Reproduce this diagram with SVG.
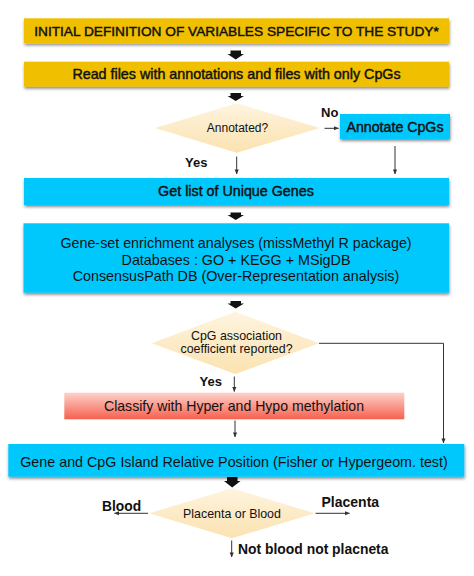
<svg xmlns="http://www.w3.org/2000/svg" width="474" height="576" viewBox="0 0 474 576">
<defs>
<style>
text{font-family:"Liberation Sans",Arial,sans-serif;fill:#111;text-anchor:middle}
.b{font-weight:bold}
.m{stroke:#111;stroke-width:0.45}
.yel{fill:#f0bf00;filter:url(#sh)}
.cyan{fill:#00c8fd;filter:url(#sh)}
.dia{fill:url(#dg)}
.ln{fill:none;stroke:#333;stroke-width:1;marker-end:url(#ah)}
.blk{fill:#111}
.lbl{text-anchor:start}
</style>
<filter id="sh" x="-5%" y="-20%" width="110%" height="150%">
<feDropShadow dx="0.5" dy="2" stdDeviation="1.4" flood-color="#000" flood-opacity="0.45"/>
</filter>
<linearGradient id="dg" x1="0" y1="0" x2="0" y2="1">
<stop offset="0" stop-color="#fef4df"/>
<stop offset="1" stop-color="#fbe2b0"/>
</linearGradient>
<linearGradient id="rg" x1="0" y1="0" x2="0" y2="1">
<stop offset="0" stop-color="#fdd2ca"/>
<stop offset="1" stop-color="#f6604e"/>
</linearGradient>
<marker id="ah" viewBox="0 0 6 6" refX="5.5" refY="3" markerWidth="5" markerHeight="5" orient="auto" markerUnits="userSpaceOnUse">
<path d="M0,0.5 L6,3 L0,5.5 Z" fill="#333"/>
</marker>
</defs>

<g id="connectors">
<path class="blk" d="M230.5,50.5 H241 V54 H244 L235.7,59.5 L227.5,54 H230.5 Z"/>
<path class="blk" d="M230.5,93 H241 V96 H244 L235.7,101 L227.5,96 H230.5 Z"/>
<path class="blk" d="M230.5,212.5 H241 V215 H244 L235.7,220 L227.5,215 H230.5 Z"/>
<path class="blk" d="M230.5,301 H241 V303.5 H244 L235.7,308.5 L227.5,303.5 H230.5 Z"/>
<path class="blk" d="M227,477 H237.5 V481 H240.5 L232.2,487.5 L224,481 H227 Z"/>
<path class="ln" d="M324.5,128.3 H338.5"/>
<path class="ln" d="M236.7,156.5 V174"/>
<path class="ln" d="M395,146 V174"/>
<path class="ln" d="M319,343.3 H443.5 V443"/>
<path class="ln" d="M234.3,376.5 V391.5"/>
<path class="ln" d="M235,420.5 V437"/>
<path class="ln" d="M148,513.3 H114.5"/>
<path class="ln" d="M315.5,513.3 H349.5"/>
<path class="ln" d="M231.7,540.5 V557"/>
</g>

<g id="n1"><rect class="yel" x="24" y="18.3" width="425" height="25"/>
<text class="m" x="236.5" y="36" font-size="13.7">INITIAL DEFINITION OF VARIABLES SPECIFIC TO THE STUDY*</text></g>

<g id="n2"><rect class="yel" x="24" y="61.7" width="425" height="25"/>
<text class="m" x="236.5" y="78.7" font-size="14.3">Read files with annotations and files with only CpGs</text></g>

<g id="d1"><path class="dia" d="M236.7,103.3 L320,128 L236.7,152.7 L155,128 Z"/>
<text x="237.5" y="132.3" font-size="12">Annotated?</text></g>

<g id="n3"><rect class="cyan" x="340" y="114" width="110" height="25"/>
<text class="m" x="395" y="132" font-size="14.2">Annotate CpGs</text></g>

<g id="n4"><rect class="cyan" x="24" y="178" width="425" height="27"/>
<text class="m" x="236" y="196" font-size="14.3">Get list of Unique Genes</text></g>

<g id="n5"><rect class="cyan" x="23.5" y="223.3" width="425.5" height="69.4"/>
<text x="236" y="247.5" font-size="14.3">Gene-set enrichment analyses (missMethyl R package)</text>
<text x="236" y="264.5" font-size="14.3">Databases : GO + KEGG + MSigDB</text>
<text x="236" y="281.3" font-size="14.3">ConsensusPath DB (Over-Representation analysis)</text></g>

<g id="d2"><path class="dia" d="M235.3,311.7 L319,343.3 L235.3,374 L151.7,343.3 Z"/>
<text x="236.5" y="339.5" font-size="12.4">CpG association</text>
<text x="236.5" y="352.7" font-size="12.4">coefficient reported?</text></g>

<g id="n6"><rect x="64.3" y="392.7" width="340" height="26.6" fill="url(#rg)"/>
<text x="234" y="410.7" font-size="14.1">Classify with Hyper and Hypo methylation</text></g>

<g id="n7"><rect class="cyan" x="8.3" y="444" width="456" height="32.7"/>
<text x="234" y="466.7" font-size="14.3">Gene and CpG Island Relative Position (Fisher or Hypergeom. test)</text></g>

<g id="d3"><path class="dia" d="M232,488.3 L315,513.3 L232,538.3 L149,513.3 Z"/>
<text x="232" y="518.3" font-size="12.4">Placenta or Blood</text></g>

<g id="labels">
<text class="b lbl" x="321" y="117" font-size="13">No</text>
<text class="b lbl" x="185" y="167" font-size="13">Yes</text>
<text class="b lbl" x="199.5" y="386" font-size="13">Yes</text>
<text class="b lbl" x="102" y="510.7" font-size="13.8">Blood</text>
<text class="b lbl" x="321.5" y="507" font-size="14">Placenta</text>
<text class="b lbl" x="238" y="554" font-size="13.9">Not blood not placneta</text>
</g>
</svg>
